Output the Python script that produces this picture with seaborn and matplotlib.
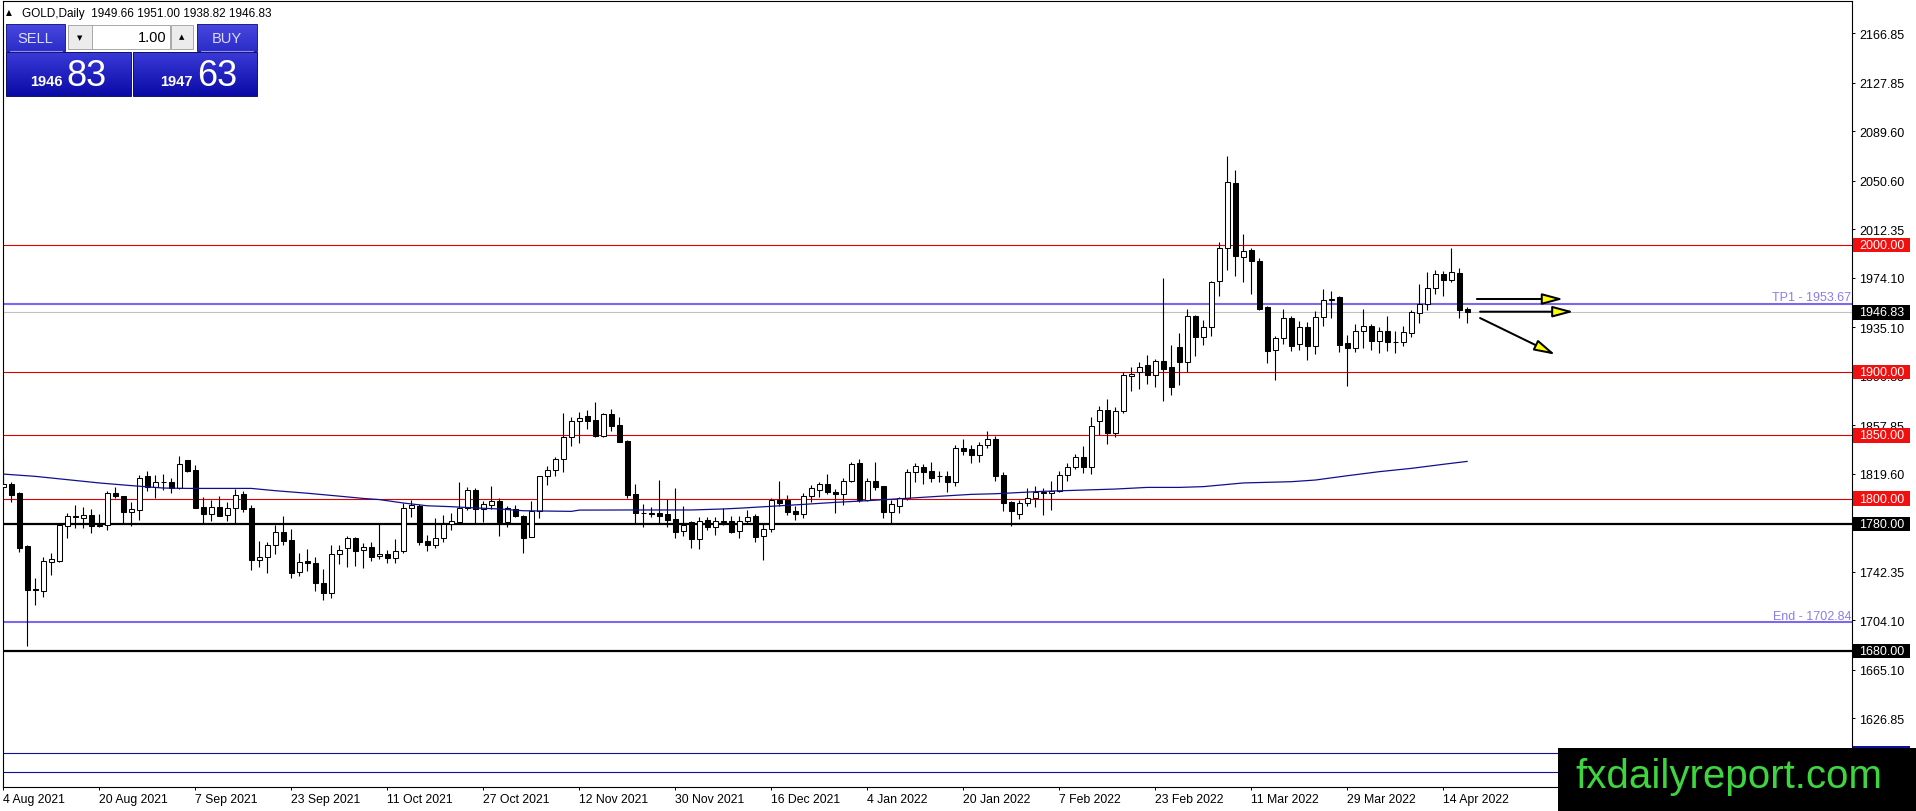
import matplotlib
matplotlib.use("Agg")
import numpy as np
import pandas as pd
import matplotlib.pyplot as plt
import matplotlib.colors as mcolors
import matplotlib.transforms as mtransforms
from matplotlib.patches import Rectangle, FancyArrowPatch
import seaborn as sns

# ---------------- data ----------------
opens = [
    1809.5, 1811.6, 1804.5, 1762.4, 1729.0, 1727.5, 1750.3, 1750.8, 1778.2, 1786.5,
    1785.0, 1786.9, 1779.2, 1779.2, 1804.5, 1801.8, 1789.8, 1791.3, 1817.6, 1809.5,
    1812.9, 1813.2, 1808.4, 1830.2, 1822.6, 1793.1, 1788.2, 1793.1, 1787.1, 1792.4,
    1803.7, 1792.4, 1751.9, 1753.8, 1763.5, 1773.5, 1767.4, 1742.0, 1750.6, 1749.3,
    1733.3, 1725.4, 1756.1, 1760.9, 1769.0, 1759.3, 1761.7, 1754.6, 1756.1, 1753.0,
    1759.0, 1792.7, 1794.5, 1766.4, 1763.8, 1768.8, 1780.1, 1781.9, 1792.7, 1806.9,
    1791.9, 1795.3, 1797.9, 1781.9, 1791.6, 1786.6, 1770.0, 1790.5, 1817.6, 1822.9,
    1831.0, 1848.3, 1861.0, 1865.2, 1862.0, 1849.7, 1866.8, 1858.1, 1845.2, 1803.7,
    1788.4, 1788.6, 1789.0, 1787.9, 1783.7, 1774.2, 1781.6, 1767.9, 1783.4, 1777.4,
    1782.7, 1782.1, 1774.2, 1782.1, 1786.1, 1770.3, 1776.1, 1799.2, 1799.2, 1790.3,
    1788.2, 1802.4, 1807.1, 1811.3, 1805.5, 1803.4, 1814.2, 1828.1, 1799.2, 1813.9,
    1809.7, 1789.7, 1794.0, 1800.3, 1820.8, 1824.7, 1822.1, 1818.1, 1818.1, 1812.9,
    1839.9, 1839.2, 1834.4, 1842.3, 1847.0, 1818.6, 1797.1, 1787.9, 1796.3, 1800.2,
    1805.5, 1804.2, 1806.3, 1818.9, 1824.7, 1832.6, 1825.2, 1860.9, 1870.1, 1852.0,
    1868.8, 1897.0, 1899.6, 1905.4, 1897.7, 1908.8, 1903.5, 1919.3, 1907.5, 1944.3,
    1927.7, 1935.6, 1971.3, 1997.3, 2049.0, 1990.2, 1996.0, 1987.1, 1951.4, 1917.4,
    1926.4, 1942.2, 1921.9, 1935.1, 1920.6, 1942.9, 1956.9, 1958.7, 1922.4, 1918.5,
    1931.9, 1936.4, 1924.0, 1931.9, 1923.8, 1923.8, 1930.6, 1946.1, 1953.4, 1965.8,
    1976.8, 1972.6, 1977.9, 1949.66]
highs = [
    1831.0, 1813.4, 1805.0, 1763.5, 1737.2, 1753.7, 1756.9, 1780.0, 1788.7, 1795.0,
    1793.1, 1791.6, 1788.0, 1806.3, 1808.9, 1802.4, 1797.1, 1818.7, 1822.1, 1818.7,
    1819.7, 1816.3, 1833.9, 1830.8, 1826.5, 1801.1, 1799.2, 1802.4, 1797.6, 1807.6,
    1806.3, 1795.0, 1766.4, 1765.6, 1779.5, 1786.1, 1775.9, 1756.9, 1760.4, 1753.8,
    1744.6, 1763.5, 1763.8, 1770.6, 1770.1, 1764.8, 1765.6, 1780.6, 1759.8, 1768.0,
    1796.4, 1799.3, 1795.8, 1771.4, 1784.8, 1787.4, 1788.5, 1812.9, 1809.0, 1808.2,
    1798.5, 1809.8, 1800.5, 1794.5, 1795.3, 1786.8, 1797.9, 1817.9, 1825.5, 1833.1,
    1867.5, 1864.1, 1868.1, 1869.9, 1876.2, 1867.3, 1870.7, 1864.6, 1846.2, 1811.5,
    1795.8, 1793.2, 1814.7, 1799.5, 1808.4, 1794.5, 1782.7, 1785.8, 1785.8, 1785.8,
    1792.4, 1786.6, 1786.5, 1791.1, 1787.9, 1780.0, 1800.3, 1814.2, 1802.9, 1794.0,
    1804.5, 1810.8, 1813.4, 1819.4, 1807.6, 1816.0, 1828.6, 1831.3, 1816.0, 1829.2,
    1810.3, 1799.2, 1801.6, 1823.4, 1828.1, 1827.3, 1828.6, 1822.1, 1822.1, 1842.3,
    1847.0, 1842.3, 1844.9, 1853.3, 1849.6, 1820.7, 1798.4, 1798.9, 1808.4, 1810.2,
    1808.4, 1813.6, 1822.0, 1827.8, 1835.2, 1841.8, 1864.6, 1873.3, 1878.5, 1872.0,
    1900.1, 1904.0, 1907.5, 1913.2, 1910.1, 1973.9, 1921.1, 1930.3, 1949.5, 1945.1,
    1940.8, 1971.3, 2002.1, 2069.9, 2059.0, 2008.6, 1997.3, 1989.5, 1952.2, 1928.5,
    1949.5, 1944.3, 1940.3, 1939.5, 1948.2, 1965.3, 1964.0, 1960.0, 1929.0, 1937.7,
    1949.5, 1937.7, 1935.6, 1943.7, 1932.4, 1936.4, 1949.0, 1969.2, 1978.4, 1980.5,
    1979.7, 1997.6, 1981.6, 1951.0]
lows = [
    1807.6, 1797.1, 1757.7, 1684.1, 1716.4, 1722.7, 1740.1, 1750.3, 1769.3, 1776.6,
    1776.6, 1772.9, 1777.4, 1775.5, 1800.2, 1780.0, 1778.7, 1783.4, 1806.3, 1800.5,
    1807.1, 1804.2, 1807.6, 1820.8, 1792.5, 1780.0, 1782.6, 1786.1, 1782.6, 1780.0,
    1789.8, 1744.0, 1746.4, 1741.2, 1756.4, 1763.8, 1737.2, 1739.3, 1743.3, 1727.0,
    1720.4, 1721.5, 1748.5, 1746.4, 1747.2, 1745.1, 1750.6, 1752.2, 1749.1, 1749.6,
    1756.9, 1785.8, 1763.8, 1759.0, 1761.1, 1765.6, 1775.3, 1781.4, 1791.1, 1780.1,
    1781.4, 1791.9, 1770.8, 1777.9, 1785.3, 1757.4, 1769.5, 1784.5, 1811.0, 1818.1,
    1821.3, 1841.8, 1844.1, 1854.9, 1848.9, 1848.3, 1853.6, 1844.4, 1800.5, 1780.5,
    1777.4, 1785.3, 1780.0, 1777.9, 1769.0, 1770.8, 1760.8, 1760.3, 1775.3, 1771.4,
    1779.5, 1772.7, 1769.0, 1780.8, 1765.6, 1751.9, 1774.0, 1794.0, 1787.1, 1783.4,
    1784.7, 1797.6, 1801.6, 1803.7, 1788.4, 1795.0, 1813.4, 1797.1, 1798.4, 1807.1,
    1785.0, 1780.0, 1788.7, 1799.2, 1813.4, 1811.3, 1813.4, 1813.4, 1805.0, 1809.7,
    1834.4, 1827.8, 1828.6, 1839.7, 1814.2, 1790.5, 1778.7, 1783.9, 1793.9, 1793.1,
    1787.4, 1791.3, 1805.0, 1814.2, 1823.4, 1819.9, 1819.4, 1850.4, 1843.1, 1848.9,
    1867.2, 1885.1, 1886.4, 1890.4, 1888.3, 1877.2, 1881.9, 1889.8, 1899.6, 1912.7,
    1921.4, 1928.5, 1960.0, 1980.2, 1975.3, 1970.5, 1961.3, 1948.7, 1906.7, 1893.8,
    1921.9, 1916.7, 1917.4, 1909.6, 1914.0, 1936.4, 1942.2, 1915.9, 1889.1, 1915.4,
    1918.5, 1917.4, 1914.8, 1916.7, 1914.8, 1920.1, 1927.2, 1938.5, 1949.0, 1961.3,
    1959.5, 1970.5, 1942.4, 1938.82]
closes = [
    1811.6, 1803.2, 1761.4, 1728.3, 1728.3, 1750.6, 1752.4, 1779.2, 1786.1, 1785.3,
    1786.9, 1778.7, 1778.5, 1804.5, 1801.8, 1789.8, 1791.9, 1816.0, 1809.5, 1812.9,
    1813.2, 1808.4, 1827.1, 1822.1, 1792.9, 1788.2, 1793.1, 1786.6, 1792.4, 1803.2,
    1791.9, 1751.8, 1753.8, 1763.5, 1773.5, 1766.9, 1741.2, 1749.8, 1749.1, 1733.3,
    1725.4, 1756.4, 1759.3, 1768.8, 1759.0, 1761.7, 1754.3, 1756.1, 1753.0, 1759.0,
    1792.7, 1795.0, 1766.1, 1763.8, 1768.8, 1780.1, 1782.2, 1792.7, 1806.9, 1791.9,
    1795.8, 1797.9, 1781.9, 1792.4, 1786.6, 1768.7, 1790.5, 1817.6, 1822.9, 1831.0,
    1848.3, 1861.0, 1863.3, 1861.5, 1849.7, 1866.8, 1857.6, 1844.9, 1803.2, 1788.4,
    1788.8, 1788.3, 1786.6, 1783.2, 1773.7, 1779.5, 1767.9, 1782.1, 1777.4, 1782.7,
    1781.9, 1774.0, 1782.1, 1785.3, 1769.5, 1776.1, 1799.2, 1796.6, 1789.7, 1788.2,
    1802.4, 1808.1, 1811.3, 1805.0, 1803.4, 1813.9, 1827.3, 1799.2, 1813.9, 1809.5,
    1789.7, 1795.5, 1800.3, 1821.3, 1825.5, 1821.3, 1816.3, 1817.6, 1812.9, 1839.7,
    1837.8, 1834.4, 1842.3, 1847.0, 1818.1, 1796.3, 1790.5, 1796.3, 1800.2, 1805.5,
    1804.2, 1806.3, 1818.9, 1824.7, 1832.6, 1825.2, 1857.5, 1870.1, 1851.7, 1868.8,
    1897.5, 1898.0, 1903.5, 1897.7, 1908.2, 1902.2, 1888.3, 1908.0, 1944.3, 1927.7,
    1935.1, 1970.5, 1997.3, 2049.4, 1991.0, 1995.5, 1987.1, 1949.5, 1916.7, 1926.4,
    1942.2, 1920.6, 1935.1, 1920.6, 1942.9, 1956.9, 1957.4, 1921.4, 1918.5, 1931.9,
    1936.4, 1924.5, 1931.9, 1923.2, 1923.2, 1931.1, 1947.4, 1953.4, 1965.8, 1976.8,
    1972.6, 1978.4, 1949.0, 1946.83]

# moving average, read at sample bars
ma_bars = [0, 4, 8, 12, 16, 20, 23, 31, 34, 38, 42, 45, 47, 50, 53, 56, 59, 62, 65,
           71, 72, 78, 86, 90, 92, 96, 100, 104, 108, 110, 113, 117, 121, 124, 130,
           139, 143, 147, 150, 155, 161, 164, 168, 172, 176, 180, 183]
ma_vals = [1819.4, 1817.6, 1815.0, 1812.4, 1810.3, 1808.4, 1808.1, 1808.1, 1806.3,
           1804.3, 1802.0, 1800.2, 1799.3, 1796.6, 1794.4, 1793.7, 1792.7, 1791.9,
           1790.5, 1790.0, 1791.0, 1791.1, 1791.1, 1791.9, 1792.5, 1794.0, 1795.5,
           1797.1, 1798.4, 1799.2, 1800.3, 1801.9, 1803.4, 1803.9, 1805.8, 1807.6,
           1808.9, 1808.9, 1809.5, 1812.4, 1813.4, 1814.7, 1818.1, 1821.3, 1823.9,
           1827.1, 1829.4]

date_bars = [0, 12, 24, 36, 48, 60, 72, 84, 96, 108, 120, 132, 144, 156, 168, 180]
date_labels = ["4 Aug 2021", "20 Aug 2021", "7 Sep 2021", "23 Sep 2021", "11 Oct 2021",
               "27 Oct 2021", "12 Nov 2021", "30 Nov 2021", "16 Dec 2021", "4 Jan 2022",
               "20 Jan 2022", "7 Feb 2022", "23 Feb 2022", "11 Mar 2022", "29 Mar 2022",
               "14 Apr 2022"]
price_ticks = [2166.85, 2127.85, 2089.60, 2050.60, 2012.35, 1974.10, 1935.10, 1896.85,
               1857.85, 1819.60, 1780.60, 1742.35, 1704.10, 1665.10, 1626.85]

red_levels = [2000.0, 1900.0, 1850.0, 1800.0]
black_levels = [1780.0, 1680.0]
navy_levels = [1599.3, 1584.3]
tp1_level = 1953.67
end_level = 1702.84
bid_level = 1946.83

# arrows: (bar_start, price_start, bar_end, price_end)
arrows = [(184.2, 1957.4, 195.0, 1957.4),
          (184.6, 1947.4, 196.3, 1947.4),
          (184.6, 1942.4, 194.0, 1913.5)]

# ---------------- figure ----------------
sns.set_theme(style="white")
plt.rcParams['font.family'] = ['Liberation Sans', 'DejaVu Sans']

W, H, DPI = 1916, 812, 100
L, R, T, B = 2.7, 1852.0, 2.3, 788.0
PX_PER_UNIT = 1.2686
BAR_PX = 8.0
fig = plt.figure(figsize=(W / DPI, H / DPI), dpi=DPI, facecolor='white')
ax = fig.add_axes([L / W, 1 - B / H, (R - L) / W, (B - T) / H])
ax.set_facecolor('white')

y_top = 2166.85 + (34.3 - T) / PX_PER_UNIT
y_bot = 2166.85 - (B - 34.3) / PX_PER_UNIT
x_left = (L - 3.3) / BAR_PX
x_right = (R - 3.3) / BAR_PX

df = pd.DataFrame({'o': opens, 'h': highs, 'l': lows, 'c': closes})
df['i'] = np.arange(len(df))
up = df['c'] >= df['o']

# horizontal levels (behind candles)
for lv in red_levels:
    ax.axhline(lv, color='#e00000', lw=0.8, zorder=1.5)
for lv in black_levels:
    ax.axhline(lv, color='black', lw=1.6, zorder=1.5)
for lv in navy_levels:
    ax.axhline(lv, color='#10109a', lw=0.8, zorder=1.5)
ax.axhline(bid_level, color='#c0c0c0', lw=0.8, zorder=1.5)
ax.axhline(tp1_level, color='#7b68ee', lw=1.5, zorder=1.6)
ax.axhline(end_level, color='#7b68ee', lw=1.5, zorder=1.6)

# candles
ax.vlines(df['i'], df['l'], df['h'], color='black', lw=0.8, zorder=3)
body_lo = np.minimum(df['o'], df['c'])
body_h = np.maximum((df['c'] - df['o']).abs(), 0.3)
ax.bar(df['i'], body_h, bottom=body_lo, width=0.58,
       color=np.where(up, 'white', 'black'), edgecolor='black', linewidth=0.75, zorder=4)

# moving average
sns.lineplot(x=ma_bars, y=ma_vals, ax=ax, color='#10108f', lw=0.9, zorder=5)

# arrows
for (x0, y0, x1, y1) in arrows:
    ar = FancyArrowPatch((x0, y0), (x1, y1),
                         arrowstyle='-|>,head_length=1.27,head_width=0.34',
                         mutation_scale=10, lw=1.45, edgecolor='black',
                         facecolor='#ffff00', shrinkA=0, shrinkB=0, zorder=6)
    ax.add_patch(ar)

# labels on lines
lab_off = 5.0
ax.text(x_right - 0.1, tp1_level + lab_off, "TP1 - 1953.67", ha='right', va='center',
        color='#8a7ee8', fontsize=9, zorder=6)
ax.text(x_right - 0.1, end_level + lab_off, "End - 1702.84", ha='right', va='center',
        color='#8a7ee8', fontsize=9, zorder=6)

ax.set_xlim(x_left, x_right)
ax.set_ylim(y_bot, y_top)

# axes style
for sp in ax.spines.values():
    sp.set_color('black')
    sp.set_linewidth(0.8)
    sp.set_visible(True)
ax.yaxis.tick_right()
ax.set_yticks(price_ticks)
ax.set_yticklabels([f"{v:.2f}" for v in price_ticks])
ax.tick_params(axis='y', direction='out', length=2.2, width=0.7, pad=2.9,
               labelsize=9, colors='black', right=True, left=False)
ax.set_xticks(date_bars)
ax.set_xticklabels(date_labels)
ax.tick_params(axis='x', direction='out', length=2.2, width=0.7, pad=1.8,
               labelsize=8.8, colors='black', bottom=True)
for lab in ax.get_xticklabels():
    lab.set_ha('left')
ax.set_xlabel('')
ax.set_ylabel('')
ax.grid(False)

# price boxes on the right axis
blend = mtransforms.blended_transform_factory(ax.transAxes, ax.transData)
def ax_x(px):
    return (px - L) / (R - L)
box_levels = [2000.0, 1946.83, 1900.0, 1850.0, 1800.0, 1780.0, 1680.0, 1599.3]
box_colors = ['#f01010', 'black', '#f01010', '#f01010', '#f01010', 'black', 'black', '#10109a']
half = 7.3 / PX_PER_UNIT
for lv, colr in zip(box_levels, box_colors):
    ax.add_patch(Rectangle((ax_x(1853), lv - half), ax_x(1910) - ax_x(1853), 2 * half,
                           transform=blend, facecolor=colr, edgecolor='none',
                           clip_on=False, zorder=7))
    ax.text(ax_x(1859), lv, f"{lv:.2f}", transform=blend, ha='left', va='center',
            color='white', fontsize=9, clip_on=False, zorder=8)

# ---------------- overlay (pixel coordinates) ----------------
ov = fig.add_axes([0, 0, 1, 1])
ov.axis('off')

def grad_box(x0, y0, x1, y1, c_top, c_bot, edge=None):
    ct = np.array(mcolors.to_rgb(c_top))
    cb = np.array(mcolors.to_rgb(c_bot))
    t = np.linspace(0, 1, 64)[:, None]
    img = (ct * (1 - t) + cb * t)[:, None, :]
    ov.imshow(img, extent=(x0, x1, y1, y0), aspect='auto', interpolation='bilinear', zorder=2)
    if edge:
        ov.add_patch(Rectangle((x0, y0), x1 - x0, y1 - y0, fill=False, ec=edge, lw=0.7, zorder=3))

# header
ov.text(6, 13, "▲", fontsize=5.5, va='center', ha='left', color='black',
        family=['DejaVu Sans'])
ov.text(22, 13.5, "GOLD,Daily  1949.66 1951.00 1938.82 1946.83", fontsize=8.5,
        va='center', ha='left', color='black')

# trade panel
grad_box(6, 25, 65, 52, '#4848e0', '#2c2cc8', edge='#20208a')
grad_box(197, 25, 257, 52, '#4848e0', '#2c2cc8', edge='#20208a')
ov.plot([10, 62], [51.5, 51.5], color='#9090ee', lw=0.8, zorder=4)
ov.plot([201, 253], [51.5, 51.5], color='#9090ee', lw=0.8, zorder=4)
ov.text(35, 39, "SELL", fontsize=10.5, ha='center', va='center', color='#dcdcff', zorder=5)
ov.text(227, 39, "BUY", fontsize=10.5, ha='center', va='center', color='#dcdcff', zorder=5)
ov.add_patch(Rectangle((68, 26), 24, 24, facecolor='#ececec', edgecolor='#a8a8a8', lw=0.7, zorder=3))
ov.add_patch(Rectangle((92, 26), 78, 24, facecolor='white', edgecolor='#a8a8a8', lw=0.7, zorder=3))
ov.add_patch(Rectangle((171, 26), 22, 24, facecolor='#ececec', edgecolor='#a8a8a8', lw=0.7, zorder=3))
ov.text(80, 38, "▼", fontsize=5, ha='center', va='center', color='black',
        family=['DejaVu Sans'], zorder=5)
ov.text(182, 37, "▲", fontsize=5, ha='center', va='center', color='black',
        family=['DejaVu Sans'], zorder=5)
ov.text(167, 38, "1.00", fontsize=10.5, ha='right', va='center', color='black', zorder=5)
grad_box(6, 53, 131, 97, '#3a3ad8', '#0a0aa6', edge='#10106a')
grad_box(133, 53, 257, 97, '#3a3ad8', '#0a0aa6', edge='#10106a')
ov.text(30, 86, "1946", fontsize=10.5, weight='bold', ha='left', va='baseline',
        color='white', zorder=5)
ov.text(66, 86, "83", fontsize=26, ha='left', va='baseline', color='white', zorder=5)
ov.text(160, 86, "1947", fontsize=10.5, weight='bold', ha='left', va='baseline',
        color='white', zorder=5)
ov.text(197, 86, "63", fontsize=26, ha='left', va='baseline', color='white', zorder=5)

# logo
ov.add_patch(Rectangle((1558, 749), W - 1558, H - 749, facecolor='black', edgecolor='none', zorder=6))
ov.text(1575, 788, "fxdailyreport.com", fontsize=29, ha='left', va='baseline',
        color='#3ed63e', zorder=7)

ov.set_xlim(0, W)
ov.set_ylim(H, 0)

fig.savefig("out.png", dpi=DPI, facecolor='white')
